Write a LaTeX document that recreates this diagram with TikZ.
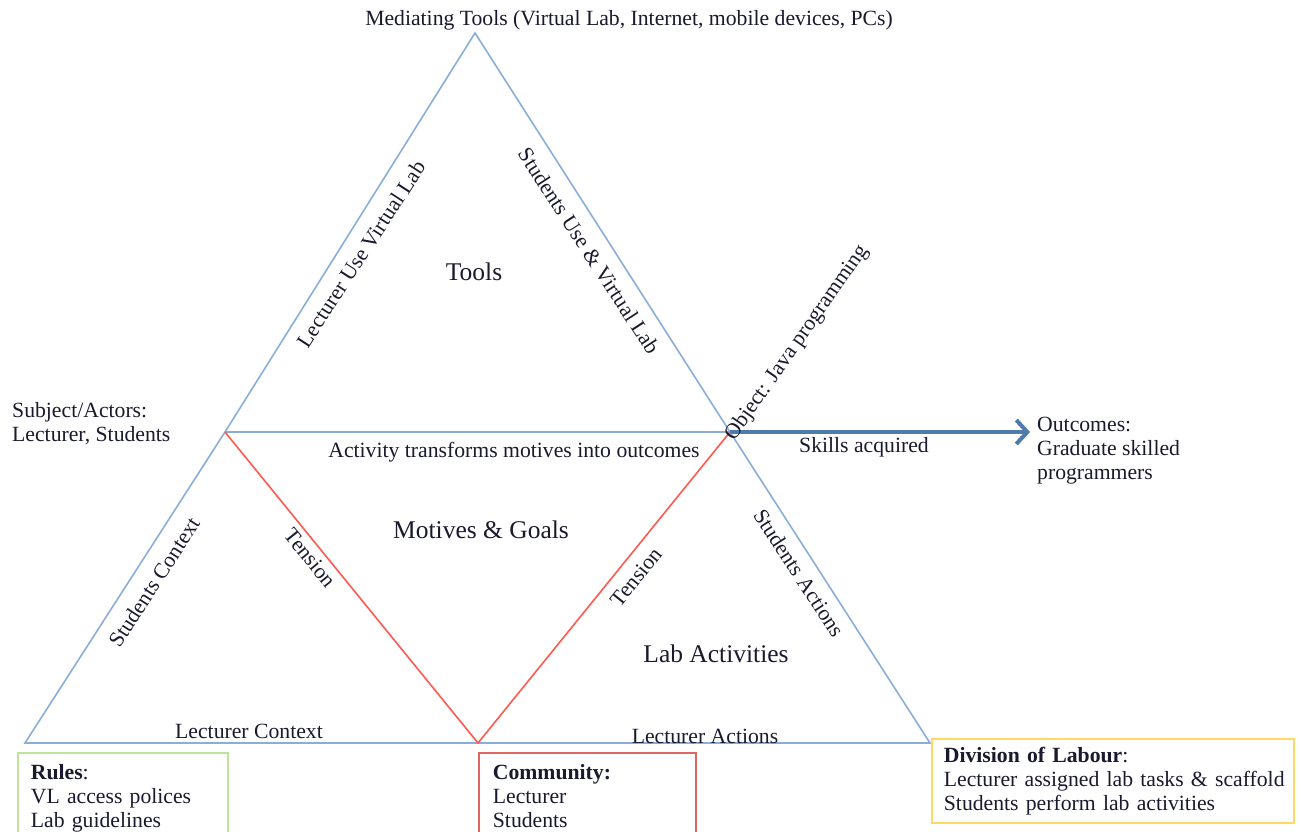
\documentclass[tikz,border=0pt]{standalone}
\usepackage{fontspec}
\setmainfont{Liberation Serif}
\usetikzlibrary{arrows.meta}
\definecolor{triblue}{HTML}{8AAED8}
\definecolor{tenred}{HTML}{FF5A50}
\definecolor{arrowblue}{HTML}{4F7AAA}
\definecolor{boxgreen}{HTML}{BFE39A}
\definecolor{boxred}{HTML}{E06666}
\definecolor{boxyellow}{HTML}{FFD966}
\definecolor{txt}{HTML}{1A1A2E}
\tikzset{
  edgeline/.style={draw=triblue, line width=1.6pt},
  redline/.style={draw=tenred, line width=1.6pt},
  lbl/.style={text=txt, font=\fontsize{21.7}{24}\selectfont, inner sep=1pt},
  big/.style={text=txt, font=\fontsize{25.5}{29}\selectfont, inner sep=1pt},
  infobox/.style={draw, line width=1.8pt, anchor=north west, align=left, text=txt,
     font=\fontsize{21.7}{24}\selectfont, inner xsep=13pt, inner ysep=12pt}
}
\begin{document}
\begin{tikzpicture}[x=1pt,y=-1pt]
\clip (0,0) rectangle (1301,831);
\fill[white] (0,0) rectangle (1301,831);
% vertices
\coordinate (A) at (475,33);
\coordinate (L) at (225,432);
\coordinate (R) at (730,432);
\coordinate (BL) at (25,743);
\coordinate (BM) at (478,743);
\coordinate (BR) at (930,743);
\coordinate (out) at (1030,432);
% triangle
\draw[edgeline] (A) -- (L) -- (BL) -- (BM) -- (BR) -- (R) -- cycle;
\draw[edgeline] (L) -- (R);
\draw[redline] (L) -- (BM) -- (R);
\draw[arrowblue, line width=4pt, -{Straight Barb[length=11pt,width=24pt,line width=4pt]}] (R) -- (out);
% labels
\node[lbl] (med) at (629,20) {Mediating Tools (Virtual Lab, Internet, mobile devices, PCs)};
\node[big] (tools) at (474,272) {Tools};
\node[big] (motives) at (481,530) {Motives \& Goals};
\node[big] (labact) at (716,654) {Lab Activities};
\node[lbl] (activity) at (514,452) {Activity transforms motives into outcomes};
\node[lbl, align=left, anchor=north west] (subject) at (11,401) {Subject/Actors:\\Lecturer, Students};
\node[lbl, align=left, anchor=north west] (outcomes) at (1036,416) {Outcomes:\\Graduate skilled\\programmers};
\node[lbl] (skills) at (864,447) {Skills acquired};
\node[lbl] (lcontext) at (249,731) {Lecturer Context};
\node[lbl] (lactions) at (705,736) {Lecturer Actions};
\node[lbl, rotate=57] (luse) at (361,254) {Lecturer Use Virtual Lab};
\node[lbl, rotate=-57] (suse) at (589,251) {Students Use \& Virtual Lab};
\node[lbl, rotate=55] (object) at (797,343) {Object: Java programming};
\node[lbl, rotate=57] (scontext) at (154,582) {Students Context};
\node[lbl, rotate=-51] (tens1) at (310,558) {Tension};
\node[lbl, rotate=51] (tens2) at (636,577) {Tension};
\node[lbl, rotate=-57] (sactions) at (799,573) {Students Actions};
% boxes
\node[infobox, draw=boxgreen, text width=184pt] (rules) at (17,752)
  {\textbf{Rules}:\\VL access polices\\Lab guidelines};
\node[infobox, draw=boxred, text width=189pt, inner xsep=14pt] (community) at (478,752)
  {\textbf{Community:}\\Lecturer\\Students};
\node[infobox, draw=boxyellow, text width=348pt, inner xsep=7pt, inner ysep=8pt] (division) at (931,738)
  {\hspace*{5pt}\textbf{Division of Labour}:\\\hspace*{5pt}Lecturer assigned lab tasks \& scaffold\\\hspace*{5pt}Students perform lab activities};
\end{tikzpicture}
\end{document}
